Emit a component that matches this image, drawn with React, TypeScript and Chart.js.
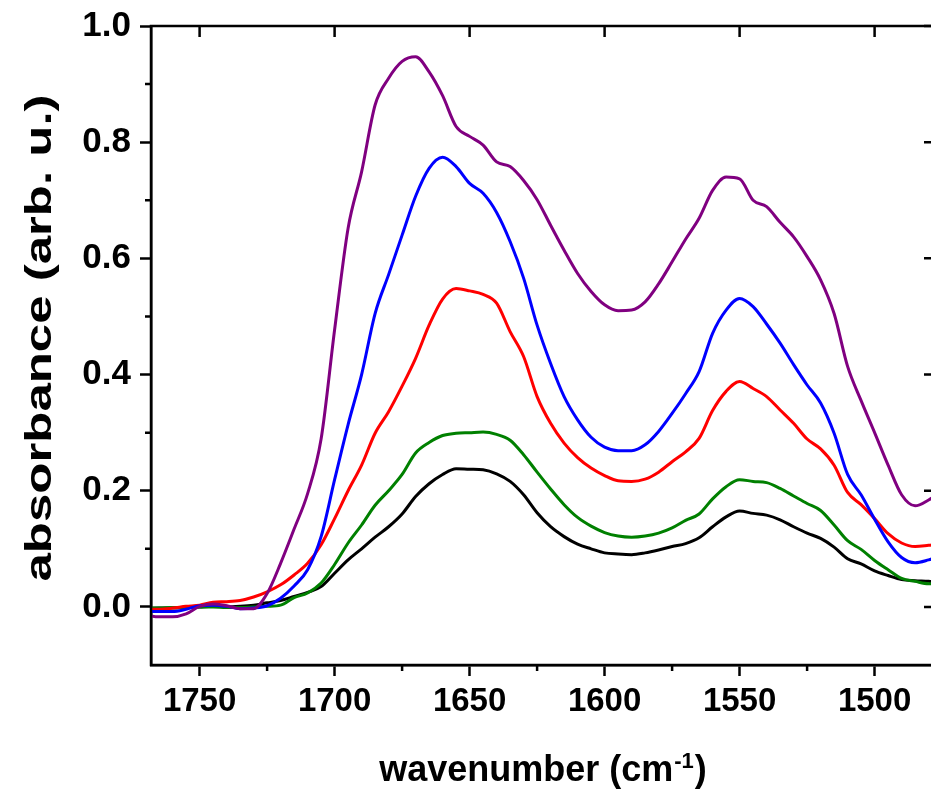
import React, { useEffect, useRef } from "react";
import { Chart, registerables } from "chart.js";
Chart.register(...registerables);

const wavenumbers = [
  1770, 1765, 1760, 1755, 1750, 1745, 1740, 1735, 1730, 1725,
  1720, 1715, 1710, 1705, 1700, 1695, 1690, 1685, 1680, 1675,
  1670, 1665, 1660, 1655, 1650, 1645, 1640, 1635, 1630, 1625,
  1620, 1615, 1610, 1605, 1600, 1595, 1590, 1585, 1580, 1575,
  1570, 1565, 1560, 1555, 1550, 1545, 1540, 1535, 1530, 1525,
  1520, 1515, 1510, 1505, 1500, 1495, 1490, 1485, 1480, 1478,
];

const absBlack = [
  -0.003, -0.002, -0.002, -0.001, 0.0, 0.001, 0.0, 0.001, 0.003, 0.007,
  0.011, 0.018, 0.025, 0.035, 0.058, 0.081, 0.1, 0.12, 0.138, 0.16,
  0.19, 0.212, 0.228, 0.238, 0.237, 0.236, 0.229, 0.216, 0.193, 0.162,
  0.138, 0.121, 0.108, 0.1, 0.093, 0.091, 0.09, 0.093, 0.098, 0.104,
  0.109, 0.119, 0.138, 0.155, 0.165, 0.161, 0.158, 0.15, 0.138, 0.127,
  0.118, 0.103, 0.083, 0.074, 0.062, 0.054, 0.047, 0.045, 0.044, 0.043,
];

const absGreen = [
  -0.002, -0.002, -0.001, -0.001, 0.0, 0.0, -0.001, -0.001, 0.0, 0.001,
  0.003, 0.016, 0.024, 0.041, 0.073, 0.11, 0.141, 0.175, 0.2, 0.228,
  0.265, 0.283, 0.295, 0.299, 0.3, 0.301, 0.297, 0.287, 0.262, 0.232,
  0.203, 0.176, 0.154, 0.139, 0.128, 0.122, 0.12, 0.122, 0.127, 0.136,
  0.149, 0.16, 0.186, 0.207, 0.219, 0.216, 0.214, 0.204, 0.191, 0.178,
  0.166, 0.141, 0.114, 0.099, 0.08, 0.064, 0.049, 0.044, 0.04, 0.04,
];

const absRed = [
  -0.004, -0.004, -0.002, 0.001, 0.003, 0.008, 0.009, 0.011, 0.017, 0.026,
  0.038, 0.055, 0.075, 0.107, 0.152, 0.2, 0.244, 0.299, 0.336, 0.38,
  0.428, 0.485, 0.53, 0.548, 0.544, 0.538, 0.523, 0.474, 0.431, 0.362,
  0.316, 0.282, 0.257, 0.239, 0.226, 0.217, 0.216, 0.22, 0.232, 0.25,
  0.267, 0.29, 0.338, 0.371, 0.388, 0.376, 0.362, 0.339, 0.316, 0.289,
  0.272, 0.244, 0.197, 0.176, 0.152, 0.126, 0.11, 0.104, 0.106, 0.107,
];

const absBlue = [
  -0.008, -0.008, -0.008, -0.004, 0.002, 0.003, 0.001, -0.003, -0.002, 0.002,
  0.015, 0.036, 0.064, 0.121, 0.219, 0.314, 0.4, 0.505, 0.572, 0.64,
  0.707, 0.755, 0.774, 0.758, 0.729, 0.712, 0.679, 0.629, 0.566, 0.485,
  0.419, 0.362, 0.322, 0.292, 0.275, 0.269, 0.269, 0.279, 0.302, 0.333,
  0.367, 0.405, 0.471, 0.511, 0.531, 0.517, 0.487, 0.454, 0.417, 0.382,
  0.351, 0.299, 0.228, 0.193, 0.151, 0.112, 0.085, 0.076, 0.081, 0.084,
];

const absPurple = [
  -0.014, -0.017, -0.017, -0.012, 0.001, 0.005, 0.002, -0.003, -0.003, 0.023,
  0.075, 0.134, 0.195, 0.289, 0.477, 0.652, 0.749, 0.864, 0.91, 0.939,
  0.947, 0.921, 0.88, 0.827, 0.81, 0.795, 0.766, 0.758, 0.734, 0.701,
  0.657, 0.614, 0.574, 0.543, 0.52, 0.51, 0.511, 0.525, 0.556, 0.594,
  0.633, 0.669, 0.717, 0.74, 0.737, 0.7, 0.689, 0.662, 0.637, 0.603,
  0.563, 0.505, 0.414, 0.355, 0.3, 0.244, 0.193, 0.174, 0.184, 0.19,
];

const xTicks = [1750, 1700, 1650, 1600, 1550, 1500];
const xMinorTicks = [1725, 1675, 1625, 1575, 1525];
const yTicks = [0, 0.2, 0.4, 0.6, 0.8, 1.0];
const yMinorTicks = [0.1, 0.3, 0.5, 0.7, 0.9];

const xTitleMain = "wavenumber (cm";
const xTitleSup = "-1";
const xTitleEnd = ")";
const yTitle = "absorbance (arb. u.)";

const FONT = '"Liberation Sans", Arial, Helvetica, sans-serif';

export default function App() {
  const ref = useRef<HTMLCanvasElement>(null);

  useEffect(() => {
    const canvas = ref.current;
    if (!canvas) return;
    const pts = (ys: number[]) => wavenumbers.map((x, i) => ({ x, y: ys[i] }));

    const framePlugin = {
      id: "frameAndTitles",
      afterDraw(chart: any) {
        const { ctx, chartArea: a, scales } = chart;
        const xs = scales.x;
        const ys = scales.y;
        ctx.save();
        ctx.strokeStyle = "#000";
        ctx.lineWidth = 2.5;
        ctx.strokeRect(a.left, a.top, a.right - a.left, a.bottom - a.top);
        ctx.beginPath();
        for (const v of xTicks) {
          const p = xs.getPixelForValue(v);
          ctx.moveTo(p, a.top);
          ctx.lineTo(p, a.top + 11);
        }
        for (const v of xMinorTicks) {
          const p = xs.getPixelForValue(v);
          ctx.moveTo(p, a.bottom);
          ctx.lineTo(p, a.bottom + 6);
        }
        for (const v of yTicks) {
          const p = ys.getPixelForValue(v);
          ctx.moveTo(a.right, p);
          ctx.lineTo(a.right - 10, p);
        }
        for (const v of yMinorTicks) {
          const p = ys.getPixelForValue(v);
          ctx.moveTo(a.left, p);
          ctx.lineTo(a.left - 6, p);
        }
        ctx.stroke();

        // x title with superscript
        ctx.fillStyle = "#000";
        ctx.textBaseline = "alphabetic";
        ctx.textAlign = "left";
        const mainFont = `bold 36px ${FONT}`;
        const supFont = `bold 22px ${FONT}`;
        ctx.font = mainFont;
        const w1 = ctx.measureText(xTitleMain).width;
        const w3 = ctx.measureText(xTitleEnd).width;
        ctx.font = supFont;
        const w2 = ctx.measureText(xTitleSup).width;
        const total = w1 + w2 + w3 + 2;
        const cx = 543;
        const x0 = cx - total / 2;
        const base = 781;
        ctx.font = mainFont;
        ctx.fillText(xTitleMain, x0, base);
        ctx.font = supFont;
        ctx.fillText(xTitleSup, x0 + w1 + 1, base - 13);
        ctx.font = mainFont;
        ctx.fillText(xTitleEnd, x0 + w1 + w2 + 2, base);

        // y title (stretched along its length as in the original)
        ctx.save();
        ctx.font = `bold 37px ${FONT}`;
        const wy = ctx.measureText(yTitle).width;
        const targetLen = 487;
        ctx.translate(51, 338);
        ctx.rotate(-Math.PI / 2);
        ctx.scale(targetLen / wy, 1);
        ctx.textAlign = "center";
        ctx.fillText(yTitle, 0, 0);
        ctx.restore();

        ctx.restore();
      },
    };

    const line = (data: number[], color: string) => ({
      data: pts(data),
      borderColor: color,
      backgroundColor: color,
      borderWidth: 3,
      pointRadius: 0,
      fill: false,
      cubicInterpolationMode: "monotone" as const,
    });

    const chart = new Chart(canvas, {
      type: "line",
      data: {
        datasets: [
          line(absPurple, "#800080"),
          line(absBlue, "#0000ff"),
          line(absRed, "#ff0000"),
          line(absGreen, "#008000"),
          line(absBlack, "#000000"),
        ],
      },
      options: {
        responsive: false,
        animation: false,
        devicePixelRatio: 1,
        layout: { padding: { top: 26, right: 66, left: 0, bottom: 0 } },
        plugins: { legend: { display: false }, tooltip: { enabled: false } },
        scales: {
          x: {
            type: "linear",
            min: 1478,
            max: 1768,
            reverse: true,
            afterBuildTicks: (s: any) => {
              s.ticks = xTicks.map((v) => ({ value: v }));
            },
            afterFit: (s: any) => {
              s.height = 129;
              s.paddingLeft = 0;
              s.paddingRight = 0;
            },
            grid: {
              display: true,
              drawOnChartArea: false,
              drawTicks: true,
              tickLength: 11,
              tickWidth: 2.5,
              tickColor: "#000",
            },
            border: { display: true, color: "#000", width: 2.5 },
            ticks: {
              color: "#000",
              font: { family: FONT, size: 33, weight: "bold" },
              padding: 6,
              maxRotation: 0,
              autoSkip: false,
              callback: (v: any) => String(v),
            },
          },
          y: {
            type: "linear",
            min: -0.1,
            max: 1.0,
            afterBuildTicks: (s: any) => {
              s.ticks = yTicks.map((v) => ({ value: v }));
            },
            afterFit: (s: any) => {
              s.width = 151;
              s.paddingTop = 0;
              s.paddingBottom = 0;
            },
            grid: {
              display: true,
              drawOnChartArea: false,
              drawTicks: true,
              tickLength: 11,
              tickWidth: 2.5,
              tickColor: "#000",
            },
            border: { display: true, color: "#000", width: 2.5 },
            ticks: {
              color: "#000",
              font: { family: FONT, size: 35, weight: "bold" },
              padding: 9,
              autoSkip: false,
              callback: (v: any) => Number(v).toFixed(1),
            },
          },
        },
      },
      plugins: [framePlugin],
    });

    return () => chart.destroy();
  }, []);

  return (
    <div
      style={{
        position: "fixed",
        left: 0,
        top: 0,
        width: 1000,
        height: 794,
        background: "#fff",
      }}
    >
      <canvas
        ref={ref}
        width={1000}
        height={794}
        style={{ display: "block", width: 1000, height: 794 }}
      />
    </div>
  );
}
